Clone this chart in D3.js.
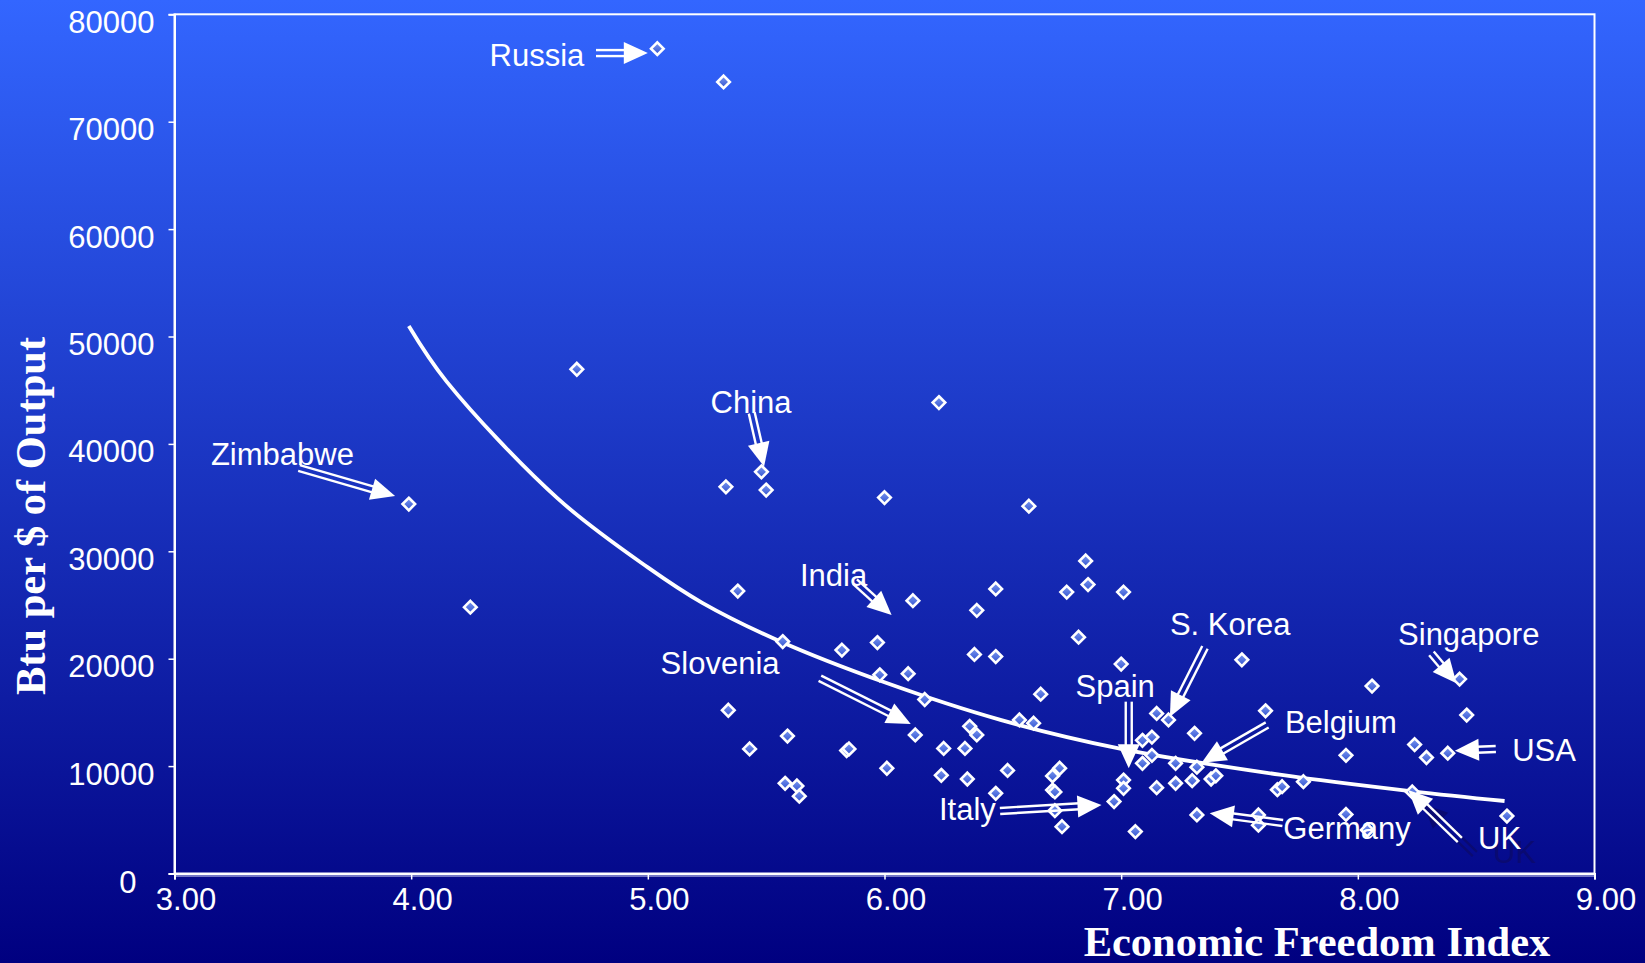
<!DOCTYPE html>
<html><head><meta charset="utf-8">
<script src="https://cdn.jsdelivr.net/npm/d3@7"></script>
<style>
html,body{margin:0;padding:0;background:#000080;}
svg{display:block;}
</style></head>
<body>
<svg id="chart" width="1645" height="963"></svg>
<script>
// ---- data ----
const econFreedom = [5.04,5.32,4.70,6.23,5.48,5.33,5.50,6.00,6.61,3.99,4.25,6.85,6.86,6.77,7.01,6.47,6.39,6.12,5.38,6.82,
  5.97,5.57,5.82,6.38,6.47,5.98,6.10,6.17,7.00,7.51,8.06,8.43,8.46,6.66,7.15,7.20,7.61,7.31,6.57,6.63,
  6.36,6.39,6.13,5.34,5.59,5.43,5.84,5.85,6.25,6.34,7.09,7.13,7.13,7.09,7.23,7.32,7.95,8.24,8.29,8.38,
  6.01,6.24,6.35,6.52,6.71,6.74,6.71,6.72,6.47,5.58,5.63,5.64,7.01,7.01,7.15,7.23,7.30,7.38,7.40,7.66,
  7.68,7.77,8.23,6.97,6.72,6.75,7.06,7.32,7.58,7.58,7.95,8.04,8.63];
const btuPerDollar = [76800,73700,46950,43850,37400,36000,35700,35000,34200,34400,24800,29100,26900,26200,26200,26500,24500,25400,26300,22000,
  21500,21600,20800,20400,20200,18500,18600,16200,19500,19900,17450,18100,14750,16700,14900,14300,15150,13050,14300,14000,
  13700,12900,12900,15200,12800,11600,11450,11600,11650,11650,12400,12700,11000,10260,10260,9900,11000,12000,10800,11200,
  9800,9140,8800,9600,9080,9800,7770,7600,7470,8400,8150,7200,8700,7930,7990,8400,8640,8800,9100,7800,
  8080,8550,7600,6700,5850,4360,3900,5450,5450,4500,5500,4050,5350];

// trend line
const trendX = [3.99,4.15,4.62,5.0,5.23,5.56,6.0,6.49,7.0,7.67,8.23,8.62];
const trendY = [50980,45800,34900,28500,25200,21600,17800,14300,11600,9200,7650,6750];

const xTicks = [3,4,5,6,7,8,9];
const yTicks = [0,10000,20000,30000,40000,50000,60000,70000,80000];

// annotations: label, text anchor (x,y), arrow start (x,y), arrow tip (x,y) in data units
const annLabels = ["Russia","Zimbabwe","China","India","Slovenia","Spain","S. Korea","Belgium","Singapore","USA","Germany","Italy","UK"];
const annTextX  = [4.331,3.154,5.265,5.643,5.054,6.807,7.206,7.692,8.170,8.652,7.685,6.230,8.508];
const annTextY  = [75150,38040,42850,26800,18580,16460,22210,13050,21280,10480,3180,4980,2250];
const annFromX  = [4.781,3.526,5.439,5.875,5.727,7.032,7.354,7.617,8.311,8.583,7.683,6.488,8.431];
const annFromY  = [76390,37760,42880,27170,18180,16000,21060,13830,20500,11590,4700,5820,3120];
const annToX    = [5.000,3.932,5.491,6.030,6.111,7.032,7.206,7.340,8.417,8.410,7.374,6.917,8.213];
const annToY    = [76390,35150,37880,24070,13920,9800,14600,10320,17710,11430,5610,6380,7770];
const shadowLabels = ["UK"]; // a dark duplicate drawn offset behind

// ---- drawing ----
(function(){
const W = 1645, H = 963;
const svg = d3.select("#chart");
const defs = svg.append("defs");
const bg = defs.append("linearGradient").attr("id","bg").attr("x1",0).attr("y1",0).attr("x2",0).attr("y2",1);
bg.append("stop").attr("offset","0%").attr("stop-color","#3366ff");
bg.append("stop").attr("offset","100%").attr("stop-color","#000080");
const pg = defs.append("linearGradient").attr("id","pt").attr("x1",0).attr("y1",0).attr("x2",0).attr("y2",1);
pg.append("stop").attr("offset","0%").attr("stop-color","#7b98f2");
pg.append("stop").attr("offset","100%").attr("stop-color","#3152cf");

svg.append("rect").attr("width",W).attr("height",H).attr("fill","url(#bg)");

const pLeft = 174.5, pRight = 1594.5, pTop = 14.3, pBottom = 873.5;
const x = d3.scaleLinear().domain([3,9]).range([pLeft,pRight]);
const y = d3.scaleLinear().domain([0,80000]).range([pBottom,pTop]);

const sans = "'Liberation Sans', Arial, sans-serif";
const serif = "'Liberation Serif', 'Times New Roman', serif";

// plot border
svg.append("rect").attr("x",pLeft).attr("y",pTop).attr("width",pRight-pLeft).attr("height",pBottom-pTop)
  .attr("fill","none").attr("stroke","white").attr("stroke-width",2);
svg.append("line").attr("x1",pLeft).attr("x2",pRight).attr("y1",pBottom+2.5).attr("y2",pBottom+2.5)
  .attr("stroke","#dfe4ff").attr("stroke-width",1.2);

// axes
const xAxis = svg.append("g").attr("transform",`translate(0,${pBottom})`)
  .call(d3.axisBottom(x).tickValues(xTicks).tickSize(6).tickFormat(d3.format(".2f")));
const yAxis = svg.append("g").attr("transform",`translate(${pLeft},0)`)
  .call(d3.axisLeft(y).tickValues(yTicks).tickSize(6).tickFormat(d => String(d)));
[xAxis,yAxis].forEach(g => {
  g.select(".domain").attr("stroke","white").attr("stroke-width",2);
  g.selectAll(".tick line").attr("stroke","white").attr("stroke-width",1.5);
  g.selectAll(".tick text").attr("fill","white").attr("font-family",sans).attr("font-size",31);
});
xAxis.selectAll(".tick text").attr("x",11).attr("y",36.5).attr("dy",0);
yAxis.selectAll(".tick text").attr("x",d => d === 0 ? -38 : -20).attr("y",d => d === 0 ? 19 : 18).attr("dy",0);

// axis titles
svg.append("text").attr("transform","translate(45,516) rotate(-90)").attr("text-anchor","middle")
  .attr("font-family",serif).attr("font-weight","bold").attr("font-size",42.5).attr("fill","white")
  .text("Btu per $ of Output");
svg.append("text").attr("x",1317).attr("y",956).attr("text-anchor","middle")
  .attr("font-family",serif).attr("font-weight","bold").attr("font-size",42.5).attr("fill","white")
  .text("Economic Freedom Index");

// trend line
const pts = trendX.map((v,i) => [v,trendY[i]]);
svg.append("path").datum(pts)
  .attr("d", d3.line().x(d => x(d[0])).y(d => y(d[1])).curve(d3.curveCatmullRom.alpha(0.5)))
  .attr("fill","none").attr("stroke","white").attr("stroke-width",3.8);

// points
const diamond = "M0,-6.3L6.3,0L0,6.3L-6.3,0Z";
svg.append("g").selectAll("path").data(econFreedom.map((v,i)=>[v,btuPerDollar[i]])).join("path")
  .attr("transform", d => `translate(${x(d[0])},${y(d[1])})`)
  .attr("d", diamond).attr("fill","url(#pt)").attr("stroke","white").attr("stroke-width",2.6);

// arrows + labels
function arrow(g, x1, y1, x2, y2, color) {
  const dx = x2-x1, dy = y2-y1, len = Math.hypot(dx,dy);
  const ux = dx/len, uy = dy/len, px = -uy, py = ux;
  const headL = 24, headW = 11, off = 3;
  const bx = x2 - ux*headL, by = y2 - uy*headL;
  [-off, off].forEach(o => {
    g.append("line").attr("x1",x1+px*o).attr("y1",y1+py*o).attr("x2",bx+px*o+ux*2).attr("y2",by+py*o+uy*2)
      .attr("stroke",color).attr("stroke-width",2.4);
  });
  g.append("path").attr("d",`M${x2},${y2}L${bx+px*headW},${by+py*headW}L${bx-px*headW},${by-py*headW}Z`)
    .attr("fill",color);
}
const ann = svg.append("g");
annLabels.forEach((lab,i) => {
  if (shadowLabels.includes(lab)) {
    const sh = ann.append("g").attr("transform","translate(15,14)");
    arrow(sh, x(annFromX[i]), y(annFromY[i]), x(annToX[i]), y(annToY[i]), "#0a0a72");
    sh.append("text").attr("x",x(annTextX[i])).attr("y",y(annTextY[i]))
      .attr("font-family",sans).attr("font-size",31).attr("fill","#0a0a72").text(lab);
  }
});
annLabels.forEach((lab,i) => {
  arrow(ann, x(annFromX[i]), y(annFromY[i]), x(annToX[i]), y(annToY[i]), "white");
  ann.append("text").attr("x",x(annTextX[i])).attr("y",y(annTextY[i]))
    .attr("font-family",sans).attr("font-size",31).attr("fill","white").text(lab);
});
})();
</script>
</body></html>
